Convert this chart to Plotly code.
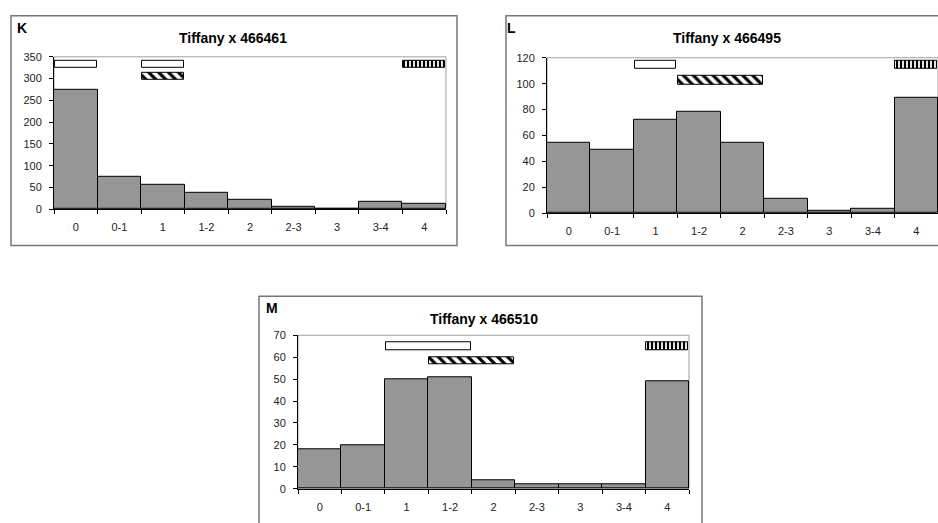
import plotly.graph_objects as go

# ---------------- data ----------------
categories = ["0", "0-1", "1", "1-2", "2", "2-3", "3", "3-4", "4"]

k_title = "Tiffany x 466461"
k_counts = [275, 75, 55, 38, 21, 6, 0, 17, 13]
k_mark_start = ["0", "1", "1", "4"]
k_mark_end = ["0", "1", "1", "4"]
k_mark_kind = ["open", "open", "hatched", "striped"]
k_mark_low = [324, 324, 297, 324]
k_mark_high = [340, 340, 313, 340]

l_title = "Tiffany x 466495"
l_counts = [54, 49, 72, 78, 54, 11, 2, 3, 89]
l_mark_start = ["1", "1-2", "4"]
l_mark_end = ["1", "2", "4"]
l_mark_kind = ["open", "hatched", "striped"]
l_mark_low = [111.5, 99.5, 111.5]
l_mark_high = [118, 106, 118]

m_title = "Tiffany x 466510"
m_counts = [18, 20, 50, 51, 4, 2, 2, 2, 49]
m_mark_start = ["1", "1-2", "4"]
m_mark_end = ["1-2", "2", "4"]
m_mark_kind = ["open", "hatched", "striped"]
m_mark_low = [63.3, 56.8, 63.3]
m_mark_high = [66.6, 60, 66.6]

# ---------------- layout helpers ----------------
W, H = 938, 523
FONT = "Liberation Sans, Arial, sans-serif"
BAR_GRAY = "#969696"


def px(x):
    return x / W


def py(y):
    return 1 - y / H


panels = [
    dict(letter="K", title=k_title, counts=k_counts, start=k_mark_start, end=k_mark_end,
         kind=k_mark_kind, low=k_mark_low, high=k_mark_high, ymax=350, dtick=50,
         plot=(54, 52, 446, 208), border=(11, 10, 457, 245), letter_xy=(22, 23),
         title_xy=(233, 33)),
    dict(letter="L", title=l_title, counts=l_counts, start=l_mark_start, end=l_mark_end,
         kind=l_mark_kind, low=l_mark_low, high=l_mark_high, ymax=120, dtick=20,
         plot=(547, 53, 938, 212), border=(506, 10, 960, 245), letter_xy=(511, 23),
         title_xy=(727, 33)),
    dict(letter="M", title=m_title, counts=m_counts, start=m_mark_start, end=m_mark_end,
         kind=m_mark_kind, low=m_mark_low, high=m_mark_high, ymax=70, dtick=10,
         plot=(298, 337, 689, 494), border=(259, 297, 702, 560), letter_xy=(272, 309),
         title_xy=(484, 320)),
]

fig = go.Figure()
shapes = []
annotations = []
layout_axes = {}

for i, p in enumerate(panels):
    n = "" if i == 0 else str(i + 1)
    xa, ya = "x" + n, "y" + n
    x0, y0, x1, y1 = p["plot"]

    fig.add_trace(go.Bar(
        x=categories, y=p["counts"], width=1,
        marker=dict(color=BAR_GRAY, line=dict(color="black", width=1)),
        xaxis=xa, yaxis=ya, hoverinfo="x+y",
    ))

    for s, e, kind, lo, hi in zip(p["start"], p["end"], p["kind"], p["low"], p["high"]):
        span = categories.index(e) - categories.index(s) + 1
        marker = dict(color="white", line=dict(color="black", width=1))
        if kind == "hatched":
            marker["pattern"] = dict(shape="\\", fgcolor="black", bgcolor="white",
                                     size=7, solidity=0.45, fillmode="replace")
        elif kind == "striped":
            marker["pattern"] = dict(shape="|", fgcolor="black", bgcolor="white",
                                     size=4, solidity=0.55, fillmode="replace")
        fig.add_trace(go.Bar(
            x=[s], y=[hi - lo], base=[lo], width=[span - 0.04], offset=-0.48,
            marker=marker, xaxis=xa, yaxis=ya, hoverinfo="skip",
        ))

    layout_axes["xaxis" + n] = dict(
        domain=[px(x0), min(px(x1), 1.0)], anchor=ya, type="category",
        categoryorder="array", categoryarray=categories, range=[-0.5, 8.5],
        tickson="boundaries", ticks="outside", ticklen=4, tickcolor="black",
        showline=True, linecolor="black", linewidth=1, showgrid=False, zeroline=False,
        tickfont=dict(family=FONT, size=11, color="#222"), ticklabelstandoff=8,
        fixedrange=True,
    )
    layout_axes["yaxis" + n] = dict(
        domain=[py(y1), py(y0)], anchor=xa, range=[0, p["ymax"]], dtick=p["dtick"],
        ticks="outside", ticklen=4, tickcolor="black", showline=True, linecolor="black",
        linewidth=1, showgrid=False, zeroline=False,
        tickfont=dict(family=FONT, size=11, color="#222"), ticklabelstandoff=5,
        fixedrange=True,
    )

    # plot-area frame (gray)
    shapes.append(dict(type="rect", xref=xa + " domain", yref=ya + " domain",
                       x0=0, x1=1, y0=0, y1=1, line=dict(color="#a0a0a0", width=1),
                       layer="below"))
    # chart-area border
    bx0, by0, bx1, by1 = p["border"]
    shapes.append(dict(type="rect", xref="paper", yref="paper",
                       x0=px(bx0), x1=px(bx1), y0=py(by1), y1=py(by0),
                       line=dict(color="#777", width=1.5)))

    lx, ly = p["letter_xy"]
    annotations.append(dict(text="<b>%s</b>" % p["letter"], xref="paper", yref="paper",
                            x=px(lx), y=py(ly), xanchor="center", yanchor="middle",
                            showarrow=False, font=dict(family=FONT, size=14, color="black")))
    tx, ty = p["title_xy"]
    annotations.append(dict(text="<b>%s</b>" % p["title"], xref="paper", yref="paper",
                            x=px(tx), y=py(ty), xanchor="center", yanchor="middle",
                            showarrow=False, font=dict(family=FONT, size=14, color="black")))

fig.update_layout(
    width=W, height=H, margin=dict(l=0, r=0, t=0, b=0),
    paper_bgcolor="white", plot_bgcolor="white", showlegend=False,
    barmode="overlay", bargap=0, font=dict(family=FONT),
    shapes=shapes, annotations=annotations, **layout_axes,
)

fig.write_html("out.html", post_script="document.body.style.margin='0';",
               config={"displayModeBar": False})
